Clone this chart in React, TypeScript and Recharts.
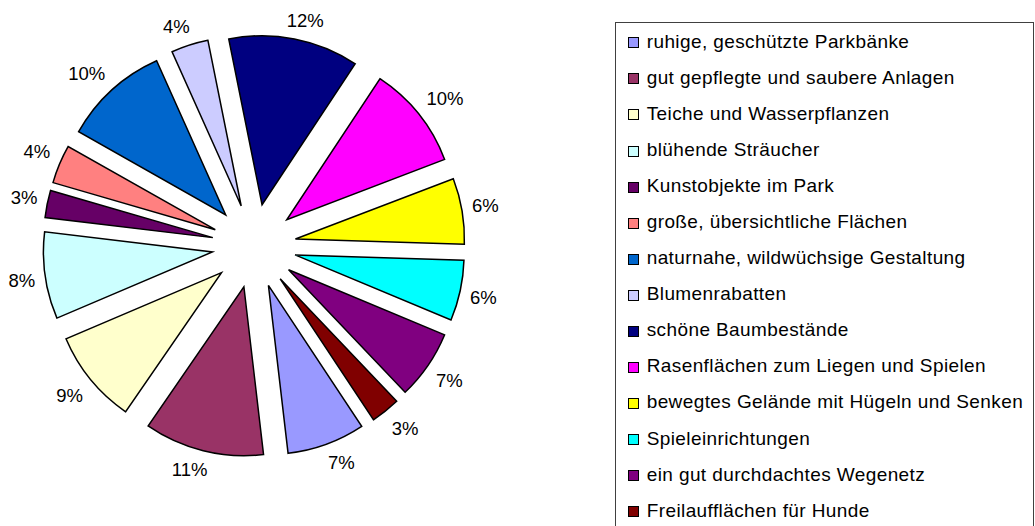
import { PieChart, Pie, Cell, Legend } from 'recharts'

// Kategorien in Legendenreihenfolge (= Reihenfolge der Segmente im Uhrzeigersinn)
const categories = [
  'ruhige, geschützte Parkbänke',
  'gut gepflegte und saubere Anlagen',
  'Teiche und Wasserpflanzen',
  'blühende Sträucher',
  'Kunstobjekte im Park',
  'große, übersichtliche Flächen',
  'naturnahe, wildwüchsige Gestaltung',
  'Blumenrabatten',
  'schöne Baumbestände',
  'Rasenflächen zum Liegen und Spielen',
  'bewegtes Gelände mit Hügeln und Senken',
  'Spieleinrichtungen',
  'ein gut durchdachtes Wegenetz',
  'Freilaufflächen für Hunde',
]

// Anteile in Prozent (aus dem Bild geschätzt)
const shares = [7.45, 11.45, 9.0, 8.3, 2.6, 3.7, 10.1, 3.55, 12.45, 9.9, 6.3, 5.8, 6.6, 2.8]

const colors = [
  '#9999FF', '#993366', '#FFFFCC', '#CCFFFF', '#660066', '#FF8080', '#0066CC',
  '#CCCCFF', '#000080', '#FF00FF', '#FFFF00', '#00FFFF', '#800080', '#800000',
]

const rows = categories.map((name, i) => ({ name, value: shares[i] }))

const FONT = '"Liberation Sans", Arial, sans-serif'
const CX = 254
const CY = 246
const RADIUS = 169
const EXPLODE = 42
const FIRST_SLICE = 146.5 // wie Excel: Grad im Uhrzeigersinn ab 12 Uhr
const START = 90 - FIRST_SLICE
const END = START - 360
const LABEL_SIZE = 18.5
const ROW_H = 36.08
const RAD = Math.PI / 180

const total = shares.reduce((a, b) => a + b, 0)

function midAngleOf(i: number) {
  const before = shares.slice(0, i).reduce((a, b) => a + b, 0)
  return START - ((before + shares[i] / 2) / total) * 360
}

const clamp = (v: number) => Math.max(-1, Math.min(1, v))

// Prozent-Beschriftung außen: Ecke der Textbox sitzt auf der Winkelhalbierenden
const renderLabel = (i: number) => (props: any) => {
  if (props.index !== i) return null
  const { cx, cy, midAngle, outerRadius, percent } = props
  const ux = Math.cos(-midAngle * RAD)
  const uy = Math.sin(-midAngle * RAD)
  const text = `${Math.round(percent * 100)}%`
  const halfW = ((text.length - 1) * 0.556 + 0.889) * LABEL_SIZE / 2
  const halfH = 9
  const r = outerRadius + 10
  const x = cx + r * ux + halfW * clamp(2.5 * ux)
  const y = cy + r * uy + halfH * clamp(2.5 * uy)
  return (
    <text
      x={x}
      y={y}
      dy="0.36em"
      textAnchor="middle"
      fill="#000"
      fontSize={LABEL_SIZE}
      fontFamily={FONT}
    >
      {text}
    </text>
  )
}

function LegendBox() {
  return (
    <div
      style={{
        border: '1px solid #404040',
        width: 419,
        height: 540,
        boxSizing: 'border-box',
        paddingTop: 0.7,
        background: '#fff',
        fontFamily: FONT,
        color: '#000',
      }}
    >
      {categories.map((name, i) => (
        <div key={name} style={{ position: 'relative', height: ROW_H }}>
          <span
            style={{
              position: 'absolute',
              left: 12.3,
              top: 13.6,
              width: 11,
              height: 11,
              boxSizing: 'border-box',
              border: '1px solid #000',
              background: colors[i],
            }}
          />
          <span
            style={{
              position: 'absolute',
              left: 30.7,
              top: 0,
              lineHeight: `${ROW_H}px`,
              fontSize: 19,
              letterSpacing: 0.4,
              whiteSpace: 'nowrap',
            }}
          >
            {name}
          </span>
        </div>
      ))}
    </div>
  )
}

export default function App() {
  return (
    <div
      style={{
        position: 'absolute',
        left: 0,
        top: 0,
        width: 1035,
        height: 526,
        overflow: 'hidden',
        background: '#fff',
      }}
    >
      <PieChart width={1035} height={526} margin={{ top: 0, right: 0, bottom: 0, left: 0 }}>
        {/* jedes Segment als eigener Pie, entlang seiner Winkelhalbierenden verschoben */}
        {rows.map((_, i) => {
          const mid = midAngleOf(i) * RAD
          return (
            <Pie
              key={i}
              data={rows}
              dataKey="value"
              nameKey="name"
              cx={CX + EXPLODE * Math.cos(mid)}
              cy={CY - EXPLODE * Math.sin(mid)}
              innerRadius={0}
              outerRadius={RADIUS}
              startAngle={START}
              endAngle={END}
              isAnimationActive={false}
              label={renderLabel(i)}
              labelLine={false}
            >
              {rows.map((r, j) => (
                <Cell
                  key={r.name}
                  fill={i === j ? colors[j] : 'none'}
                  stroke={i === j ? '#000' : 'none'}
                  strokeWidth={1.5}
                />
              ))}
            </Pie>
          )
        })}
        <Legend
          layout="vertical"
          align="right"
          verticalAlign="top"
          wrapperStyle={{ left: 615, top: 22, width: 419 }}
          content={() => <LegendBox />}
        />
      </PieChart>
    </div>
  )
}
